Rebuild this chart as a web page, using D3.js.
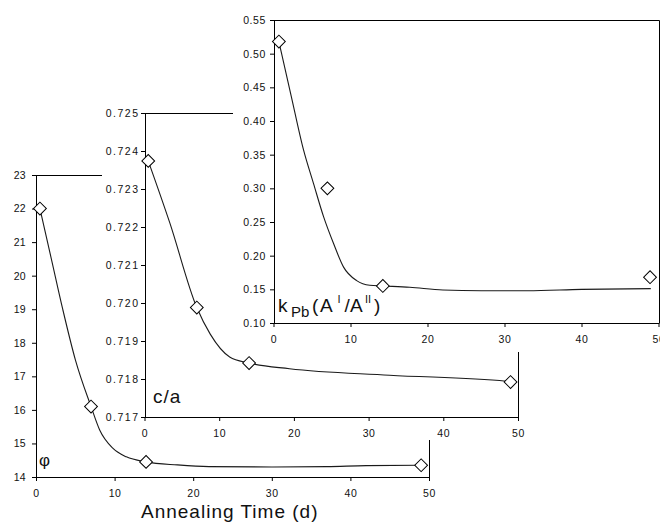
<!DOCTYPE html>
<html>
<head>
<meta charset="utf-8">
<script src="https://cdn.jsdelivr.net/npm/d3@7"></script>
<style>
  body { margin: 0; background: #fff; }
  svg text { font-family: "Liberation Sans", Arial, sans-serif; fill: #111; }
</style>
</head>
<body>
<div id="chart"></div>
<script>
// Shared x axis: annealing time in days
var dayTicks = [0, 10, 20, 30, 40, 50];

// Panel 1: phi
var phiDays = [0.5, 7, 14, 49];
var phiValues = [22.0, 16.1, 14.45, 14.35];
var phiFitDays = [0.5, 2, 3.4, 5, 7, 8.1, 9.8, 11.5, 14, 18, 22, 30, 37, 42, 49];
var phiFitValues = [22.0, 20.45, 19.0, 17.5, 16.1, 15.4, 14.85, 14.6, 14.45, 14.36, 14.31, 14.30, 14.31, 14.34, 14.35];
var phiTicks = [14, 15, 16, 17, 18, 19, 20, 21, 22, 23];

// Panel 2: c/a
var caDays = [0.5, 7, 14, 49];
var caValues = [0.72374, 0.71988, 0.71842, 0.71792];
var caFitDays = [0.5, 3.4, 7, 8.8, 11.4, 14, 19.4, 32.8, 48.4, 49];
var caFitValues = [0.72374, 0.7221, 0.71988, 0.71918, 0.71858, 0.71842, 0.71827, 0.71810, 0.71794, 0.71792];
var caTicks = [0.717, 0.718, 0.719, 0.720, 0.721, 0.722, 0.723, 0.724, 0.725];

// Panel 3: k_Pb(A^I/A^II)
var kDays = [0.7, 7, 14.2, 48.9];
var kValues = [0.518, 0.300, 0.155, 0.168];
var kFitDays = [0.7, 2.3, 3.9, 5.2, 6.5, 7.8, 9.1, 10.8, 12.5, 14.2, 17.7, 22, 27, 33, 40, 49];
var kFitValues = [0.518, 0.437, 0.357, 0.307, 0.258, 0.218, 0.183, 0.163, 0.156, 0.155, 0.153, 0.149, 0.148, 0.148, 0.150, 0.151];
var kTicks = [0.10, 0.15, 0.20, 0.25, 0.30, 0.35, 0.40, 0.45, 0.50, 0.55];

var width = 660, height = 522;

var svg = d3.select("#chart").append("svg")
    .attr("width", width)
    .attr("height", height);

// Panel layout (pixel boxes), each later panel sits on a white box over the earlier one
var panels = [
    {days: phiDays, values: phiValues, fitDays: phiFitDays, fitValues: phiFitValues,
     ticks: phiTicks, fmt: d3.format("d"),
     xRange: [36, 429], yRange: [477, 175], box: null,
     yPad: 6, yLs: 0.3, xLs: 0.6},
    {days: caDays, values: caValues, fitDays: caFitDays, fitValues: caFitValues,
     ticks: caTicks, fmt: d3.format(".3f"),
     xRange: [144.5, 518], yRange: [417, 113], box: {x: 102, y: 0, w: 558, h: 440},
     yPad: 1.5, yLs: 1.5, xLs: 0.6},
    {days: kDays, values: kValues, fitDays: kFitDays, fitValues: kFitValues,
     ticks: kTicks, fmt: d3.format(".2f"),
     xRange: [273.5, 658.5], yRange: [323, 20], box: {x: 233, y: 0, w: 427, h: 352},
     yPad: 4, yLs: 0.6, xLs: 0.6}
];

var frames = svg.append("g");
var marks = svg.append("g");

panels.forEach(function(p) {
    p.x = d3.scaleLinear().domain([0, 50]).range(p.xRange);
    p.y = d3.scaleLinear().domain(d3.extent(p.ticks)).range(p.yRange);

    var g = frames.append("g");

    if (p.box) {
        g.append("rect")
            .attr("x", p.box.x).attr("y", p.box.y)
            .attr("width", p.box.w).attr("height", p.box.h)
            .attr("fill", "#fff");
    }

    var yTop = Math.round(p.y(p.ticks[p.ticks.length - 1])) + 0.5;
    var xRight = Math.round(p.x(50)) + 0.5;
    var yBottom = Math.round(p.y(p.ticks[0]));
    var xLeft = Math.round(p.x(0));

    // top and right border of plot area
    g.append("line")
        .attr("x1", xLeft).attr("x2", xRight)
        .attr("y1", yTop).attr("y2", yTop)
        .attr("stroke", "#000");
    g.append("line")
        .attr("x1", xRight).attr("x2", xRight)
        .attr("y1", yTop).attr("y2", yBottom + 0.5)
        .attr("stroke", "#000");

    var xAxis = d3.axisBottom(p.x)
        .tickValues(dayTicks)
        .tickSize(4)
        .tickSizeOuter(0)
        .tickPadding(9);

    var yAxis = d3.axisLeft(p.y)
        .tickValues(p.ticks)
        .tickFormat(p.fmt)
        .tickSize(4)
        .tickSizeOuter(0)
        .tickPadding(p.yPad);

    var gx = g.append("g")
        .attr("transform", "translate(" + (xLeft - 0.5 + 0.5) + "," + yBottom + ")")
        .attr("transform", "translate(0," + yBottom + ")")
        .call(xAxis);
    gx.selectAll("text")
        .attr("font-size", "10.5px")
        .style("letter-spacing", p.xLs + "px");

    var gy = g.append("g")
        .attr("transform", "translate(" + xLeft + ",0)")
        .call(yAxis);
    gy.selectAll("text")
        .attr("font-size", "10.5px")
        .style("letter-spacing", p.yLs + "px");

    g.selectAll(".domain, .tick line").attr("stroke", "#000");
    g.attr("font-family", null);
});

// curves and markers on top of all frames
var line = d3.line().curve(d3.curveMonotoneX);
var diamond = d3.symbol().type(d3.symbolSquare).size(82);

panels.forEach(function(p) {
    var fit = p.fitDays.map(function(d, i) { return [p.x(d), p.y(p.fitValues[i])]; });
    marks.append("path")
        .attr("d", line(fit))
        .attr("fill", "none")
        .attr("stroke", "#1a1a1a")
        .attr("stroke-width", 1.1);

    marks.selectAll(null)
        .data(p.days)
        .enter().append("path")
        .attr("d", diamond)
        .attr("transform", function(d, i) {
            return "translate(" + p.x(d) + "," + p.y(p.values[i]) + ") rotate(45)";
        })
        .attr("fill", "#fff")
        .attr("stroke", "#000")
        .attr("stroke-width", 1);
});

// panel labels
svg.append("text")
    .attr("x", 39).attr("y", 466)
    .attr("font-size", "17px")
    .text("φ");

svg.append("text")
    .attr("x", 153).attr("y", 403)
    .attr("font-size", "19px")
    .style("letter-spacing", "1px")
    .text("c/a");

var k = svg.append("text").attr("y", 311.5).attr("font-size", "19px");
k.append("tspan").attr("x", 278).text("k");
k.append("tspan").attr("x", 291).attr("dy", 5).attr("font-size", "15px").text("Pb");
k.append("tspan").attr("x", 312).attr("dy", -5).text("(");
k.append("tspan").attr("x", 320).text("A");
k.append("tspan").attr("x", 337.5).attr("dy", -9).attr("font-size", "11px").text("I");
k.append("tspan").attr("x", 344.5).attr("dy", 9).text("/");
k.append("tspan").attr("x", 350).text("A");
k.append("tspan").attr("x", 365).attr("dy", -9).attr("font-size", "11px").text("II");
k.append("tspan").attr("x", 374).attr("dy", 9).text(")");

svg.append("text")
    .attr("x", 141).attr("y", 518)
    .attr("font-size", "19px")
    .style("letter-spacing", "1px")
    .text("Annealing Time (d)");
</script>
</body>
</html>
